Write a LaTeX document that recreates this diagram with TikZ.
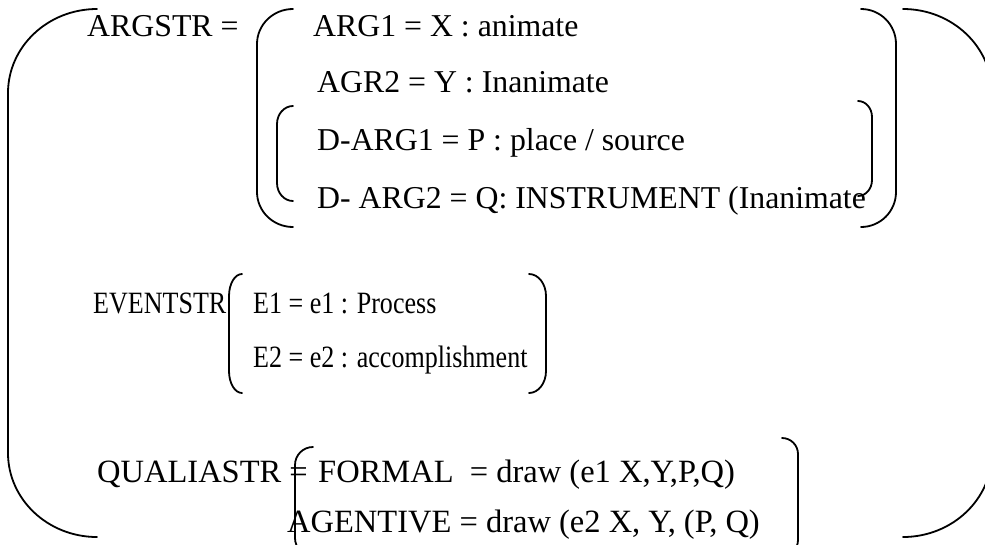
\documentclass[tikz,border=0pt]{standalone}
\usepackage{fontspec}
\setmainfont{Liberation Serif}
\newfontfamily\condfont[FakeStretch=0.84]{Liberation Serif}
% bracket: xe (free end x), xv (vertical x), yt, yb, ry
\newcommand\brk[5]{%
  \draw[brline] (#1,#3) .. controls ({#1-0.5523*(#1-#2)},#3) and (#2,{#3+#5-0.5523*#5}) .. (#2,{#3+#5})
    -- (#2,{#4-#5}) .. controls (#2,{#4-#5+0.5523*#5}) and ({#1-0.5523*(#1-#2)},#4) .. (#1,#4);}
\begin{document}
\begin{tikzpicture}[x=1pt,y=-1pt,
  brline/.style={line width=1.8pt, line cap=round},
  txt/.style={anchor=base west, inner sep=0pt, font=\fontsize{31.8}{36}\selectfont},
  etxt/.style={txt, font=\condfont\fontsize{31}{36}\selectfont},
  qtxt/.style={txt, font=\fontsize{32.5}{36}\selectfont}]
\useasboundingbox (0,0) rectangle (985,544);
\clip (0,0) rectangle (985,544);
% outer brackets
\brk{97}{8}{9}{537}{84}
\brk{903}{992}{9}{537}{84}
% ARGSTR brackets
\brk{293}{257}{9}{227}{35}
\brk{861}{896}{9}{227}{35}
% D-ARG brackets
\brk{293}{277}{106}{201}{18}
\brk{858}{872}{101}{196}{16}
% EVENTSTR brackets
\brk{242}{229}{274}{393}{22}
\brk{529}{546}{274}{393}{22}
% QUALIASTR brackets
\brk{313}{295}{447}{556}{18}
\brk{782}{798}{438}{556}{16}
% texts
\node[txt] (argstr) at (87,36) {ARGSTR =};
\node[txt] (arg1) at (313,36) {ARG1 = X : animate};
\node[txt] (arg2) at (317,92) {AGR2 = Y : Inanimate};
\node[txt] (darg1) at (317,150) {D-ARG1 = P : place / source};
\node[txt] (darg2) at (317,208) {D- ARG2 = Q: INSTRUMENT (Inanimate};
\node[etxt] (evstr) at (93,313) {EVENTSTR};
\node[etxt] (e1) at (253,313) {E1 = e1 : Process};
\node[etxt] (e2) at (253,367) {E2 = e2 : accomplishment};
\node[qtxt] (qstr) at (97,482) {QUALIASTR =};
\node[qtxt] (formal) at (318,482) {FORMAL \ = draw (e1 X,Y,P,Q)};
\node[qtxt] (agentive) at (287,532) {AGENTIVE = draw (e2 X, Y, (P, Q)};
\end{tikzpicture}
\end{document}
